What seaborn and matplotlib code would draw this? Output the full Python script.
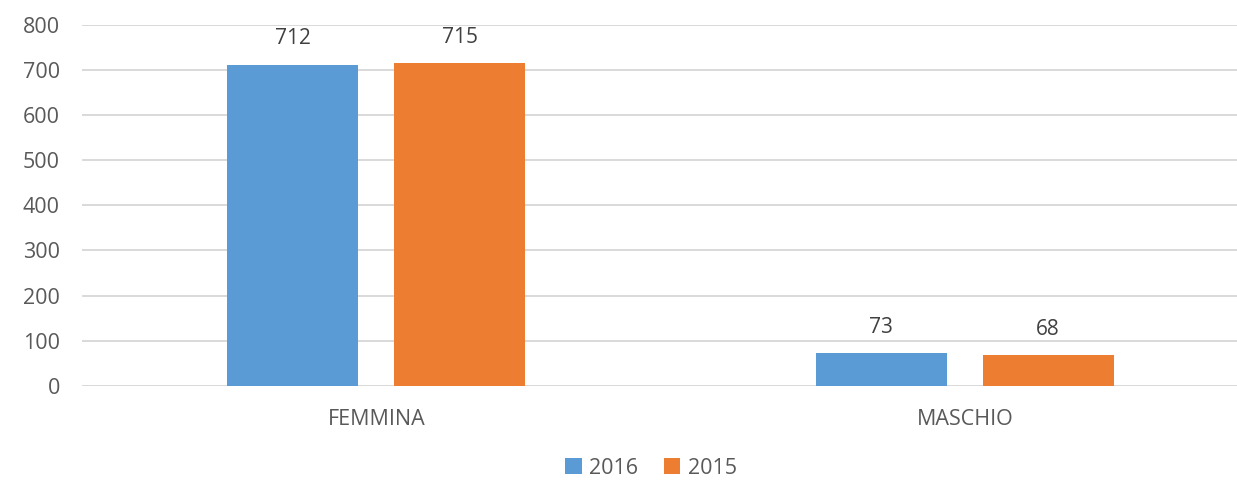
import pandas as pd
import matplotlib
matplotlib.use("Agg")
import matplotlib.pyplot as plt
import seaborn as sns

# Data
categories = ["FEMMINA", "MASCHIO"]
years = ["2016", "2015"]
values_2016 = [712, 73]
values_2015 = [715, 68]

df = pd.DataFrame({
    "sesso": categories * 2,
    "anno": [years[0]] * 2 + [years[1]] * 2,
    "valore": values_2016 + values_2015,
})

sns.set_theme(style="white")
plt.rcParams["font.family"] = ["Open Sans", "DejaVu Sans"]
text_color = "#595959"

fig = plt.figure(figsize=(12.37, 4.8), dpi=100)
ax = fig.add_axes([82 / 1237, 1 - 385.7 / 480, 1 - 82 / 1237, (385.7 - 25) / 480])

sns.barplot(data=df, x="sesso", y="valore", hue="anno", hue_order=years,
            palette=["#5B9BD5", "#ED7D31"], width=0.567, gap=0.216,
            saturation=1, linewidth=0, ax=ax, zorder=3)

for cont in ax.containers:
    ax.bar_label(cont, padding=11, fontsize=15, color="#404040")

ax.set_ylim(0, 800)
ax.set_xlim(-0.5, 1.4626)
ax.set_yticks(range(0, 801, 100))
ax.yaxis.grid(True, color="#D9D9D9", linewidth=1.4, zorder=0)
ax.set_axisbelow(True)
sns.despine(ax=ax, left=True, bottom=True, top=True, right=True)
ax.tick_params(axis="y", length=0, pad=16, labelsize=15.5, labelcolor=text_color)
ax.tick_params(axis="x", length=0, pad=17, labelsize=15.5, labelcolor=text_color)
ax.set_xlabel("")
ax.set_ylabel("")

handles, labels = ax.get_legend_handles_labels()
ax.legend_.remove()
fig.legend(handles, labels, loc="center", bbox_to_anchor=(651 / 1237, 1 - 468 / 480),
           ncol=2, frameon=False, fontsize=15.5, labelcolor=text_color,
           handlelength=0.75, handleheight=0.75, handletextpad=0.35, columnspacing=1.2)

fig.savefig("out.png", dpi=100)
